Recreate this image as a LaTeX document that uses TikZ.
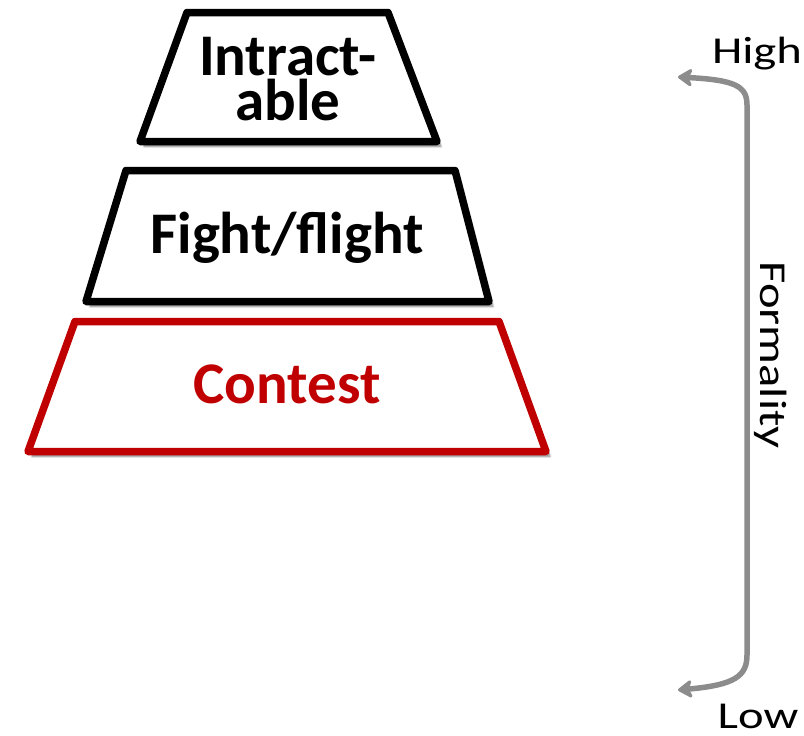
\documentclass[tikz,border=0pt]{standalone}
\usepackage{fontspec}
\setmainfont{Carlito}
\usetikzlibrary{arrows.meta,shadows.blur}
\definecolor{contestred}{HTML}{C00000}
\definecolor{scalegray}{HTML}{8C8C8C}
\tikzset{
  tier/.style={line width=7.5pt, line join=round, fill=white,
    blur shadow={shadow xshift=4pt, shadow yshift=-5pt, shadow blur steps=6, shadow opacity=50}},
  tierlabel/.style={font=\fontsize{59}{45}\selectfont\bfseries, anchor=base, inner sep=0pt},
  scalelabel/.style={font=\fontsize{38}{40}\selectfont, anchor=base, inner sep=0pt},
  scalearrow/.style={draw=scalegray, line width=5.5pt, line cap=round,
    {Stealth[length=17pt,width=22pt,inset=5pt,round]}-{Stealth[length=17pt,width=22pt,inset=5pt,round]}}
}
% the scale labels are set somewhat wider than the font's natural width
\newcommand{\widetext}[1]{\scalebox{1.28}[1]{#1}}
\begin{document}
\begin{tikzpicture}[x=1pt,y=-1pt]
  \useasboundingbox (0,0) rectangle (804,736);
  % three stacked tiers
  \draw[tier] (187,12.5) -- (388,12.5) -- (437,141.5) -- (140,141.5) -- cycle;
  \draw[tier] (126,170.5) -- (455,170.5) -- (489,301.5) -- (86,301.5) -- cycle;
  \draw[tier, draw=contestred] (75,321.5) -- (499,321.5) -- (546,451.5) -- (28,451.5) -- cycle;
  \node[tierlabel] (intractA) at (288,75) {Intract-};
  \node[tierlabel] (intractB) at (288,120) {able};
  \node[tierlabel] (fight) at (287,253) {Fight/flight};
  \node[tierlabel, text=contestred] (contest) at (287,403) {Contest};
  % formality scale
  \node[scalelabel] (high) at (757,63) {\widetext{High}};
  \node[scalelabel] (low) at (758,728) {\widetext{Low}};
  \node[scalelabel, rotate=-90] (formality) at (760,355) {\widetext{Formality}};
  \coordinate (hitip) at (678,77);
  \coordinate (lotip) at (678,690);
  \draw[scalearrow] (hitip) .. controls (735,80) and (747,86) .. (747,105)
    -- (747,655) .. controls (747,676) and (735,685) .. (lotip);
\end{tikzpicture}
\end{document}
